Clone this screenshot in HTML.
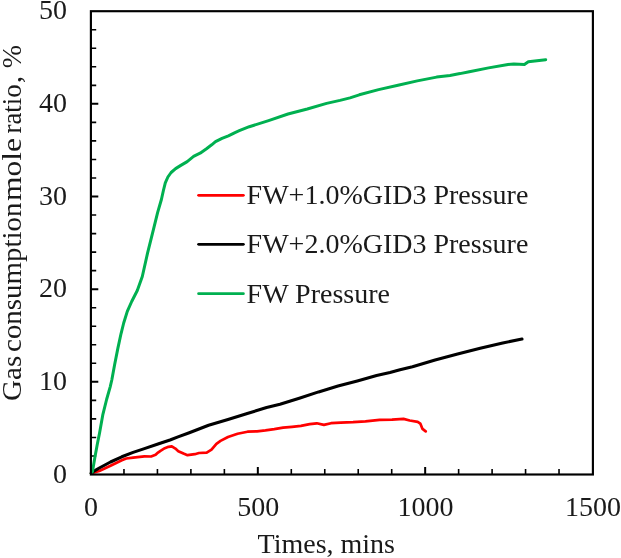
<!DOCTYPE html>
<html><head><meta charset="utf-8"><title>Gas consumption mole ratio</title>
<style>html,body{margin:0;padding:0;background:#fff;}body{width:621px;height:558px;overflow:hidden;}svg{display:block;}text{font-family:"Liberation Serif",serif;fill:#1a1a1a;}g.t{opacity:0.999;}</style></head><body>
<svg width="621" height="558" viewBox="0 0 621 558">
<rect x="0" y="0" width="621" height="558" fill="#ffffff"/>
<path d="M123.97,474.5v-5.4M157.43,474.5v-5.4M190.90,474.5v-5.4M224.37,474.5v-5.4M291.30,474.5v-5.4M324.77,474.5v-5.4M358.23,474.5v-5.4M391.70,474.5v-5.4M458.63,474.5v-5.4M492.10,474.5v-5.4M525.57,474.5v-5.4M559.03,474.5v-5.4M90.9,455.97h5.3M90.9,437.44h5.3M90.9,418.90h5.3M90.9,400.37h5.3M90.9,363.31h5.3M90.9,344.78h5.3M90.9,326.24h5.3M90.9,307.71h5.3M90.9,270.65h5.3M90.9,252.12h5.3M90.9,233.58h5.3M90.9,215.05h5.3M90.9,177.99h5.3M90.9,159.46h5.3M90.9,140.92h5.3M90.9,122.39h5.3M90.9,85.33h5.3M90.9,66.80h5.3M90.9,48.26h5.3M90.9,29.73h5.3" stroke="#000" stroke-width="1.6" fill="none"/>
<path d="M257.83,474.5v-7.6M425.17,474.5v-7.6M90.9,381.84h7.4M90.9,289.18h7.4M90.9,196.52h7.4M90.9,103.86h7.4" stroke="#000" stroke-width="2.0" fill="none"/>
<polyline points="91.2,473.4 93.1,472.6 99.3,470.9 110.5,465.8 121.8,460.3 126.2,458.5 133.1,457.6 144.4,456.3 151.1,456.5 155.6,454.8 158.0,452.6 160.5,450.8 164.8,448.2 168.5,446.8 171.8,446.3 175.4,448.6 178.3,451.2 183.5,453.6 187.5,455.2 194.8,454.2 199.0,453.0 206.7,452.6 211.5,449.6 216.4,443.8 220.5,440.9 228.0,437.0 237.6,433.8 247.5,431.7 257.0,431.3 265.4,430.4 274.3,429.2 283.1,427.6 292.0,426.8 300.9,425.9 309.7,424.2 316.8,423.3 323.9,424.9 331.0,423.2 340.6,422.6 353.0,422.1 365.4,421.3 379.6,419.8 392.0,419.7 403.5,418.9 409.7,420.5 417.7,421.8 420.3,423.6 422.5,428.9 425.7,431.4" fill="none" stroke="#ff0000" stroke-width="2.7" stroke-linejoin="round" stroke-linecap="round"/>
<polyline points="91.2,473.2 93.1,471.6 99.3,468.0 110.5,462.0 121.8,456.8 133.1,452.4 144.4,448.6 158.0,444.0 170.0,440.0 178.0,436.9 189.3,432.7 208.6,425.3 228.0,419.4 247.3,413.4 266.6,407.6 280.0,404.3 299.3,398.3 318.6,391.9 338.0,386.1 357.3,380.9 376.6,375.5 390.0,372.6 400.0,369.8 412.5,366.7 435.1,359.9 457.6,353.9 480.2,348.2 502.7,343.0 522.0,339.0" fill="none" stroke="#000000" stroke-width="3.1" stroke-linejoin="round" stroke-linecap="round"/>
<polyline points="91.3,473.5 92.5,471.5 94.9,457.3 97.3,444.3 99.6,432.8 102.9,414.3 106.6,399.5 110.2,386.8 111.8,380.0 114.7,364.2 117.9,348.1 121.0,333.8 123.7,323.0 127.3,311.4 131.7,301.5 137.3,290.5 142.3,276.5 147.6,252.9 152.6,232.8 157.6,212.7 161.4,199.5 163.4,190.5 165.3,182.8 167.9,177.0 171.1,172.5 175.6,168.6 180.8,165.4 187.2,161.6 193.6,156.4 200.1,153.2 206.5,148.7 211.7,144.8 215.5,141.6 222.0,138.4 228.4,135.8 235.0,132.6 239.3,130.7 249.3,126.7 268.6,120.6 288.0,114.0 307.3,109.0 326.6,103.4 340.0,100.4 350.0,97.9 359.3,94.8 378.6,89.6 398.0,85.2 417.3,80.9 436.6,77.1 450.0,75.4 460.0,73.6 469.3,71.7 488.6,67.9 508.0,64.4 513.8,64.0 524.4,64.4 528.3,61.7 537.0,60.7 545.7,59.7" fill="none" stroke="#00b050" stroke-width="3.0" stroke-linejoin="round" stroke-linecap="round"/>
<rect x="90.9" y="11.2" width="502.0" height="463.3" fill="none" stroke="#000" stroke-width="2.15"/>
<g class="t">
<text x="67" y="482.5" font-size="28.0" text-anchor="end">0</text>
<text x="67" y="389.8" font-size="28.0" text-anchor="end">10</text>
<text x="67" y="297.2" font-size="28.0" text-anchor="end">20</text>
<text x="67" y="204.5" font-size="28.0" text-anchor="end">30</text>
<text x="67" y="111.9" font-size="28.0" text-anchor="end">40</text>
<text x="67" y="19.2" font-size="28.0" text-anchor="end">50</text>
<text x="90.9" y="515.6" font-size="28.0" text-anchor="middle">0</text>
<text x="258.2" y="515.6" font-size="28.0" text-anchor="middle">500</text>
<text x="425.6" y="515.6" font-size="28.0" text-anchor="middle">1000</text>
<text x="592.9" y="515.6" font-size="28.0" text-anchor="middle">1500</text>
<text x="326.3" y="552.6" font-size="28.0" text-anchor="middle">Times, mins</text>
<text transform="translate(20.5,378.4) rotate(-90) scale(1.04,1)" font-size="28.0" text-anchor="middle">Gas</text>
<text transform="translate(20.5,277.2) rotate(-90) scale(1.034,1)" font-size="28.0" text-anchor="middle">consumption</text>
<text transform="translate(20.5,169.4) rotate(-90) scale(1.125,1)" font-size="28.0" text-anchor="middle">mole</text>
<text transform="translate(20.5,108.9) rotate(-90) scale(0.96,1)" font-size="28.0" text-anchor="middle">ratio</text>
<text transform="translate(20.5,79.4) rotate(-90) scale(1.0,1)" font-size="28.0" text-anchor="middle">,</text>
<text transform="translate(20.5,56.6) rotate(-90) scale(1.0,1)" font-size="28.0" text-anchor="middle">%</text>
<line x1="198.6" x2="243.4" y1="195.3" y2="195.3" stroke="#ff0000" stroke-width="2.8" stroke-linecap="round"/>
<text x="246.6" y="204.2" font-size="28.0">FW+1.0%GID3 Pressure</text>
<line x1="198.6" x2="243.4" y1="244.3" y2="244.3" stroke="#000000" stroke-width="2.8" stroke-linecap="round"/>
<text x="246.6" y="252.9" font-size="28.0">FW+2.0%GID3 Pressure</text>
<line x1="198.6" x2="243.4" y1="293.7" y2="293.7" stroke="#00b050" stroke-width="2.8" stroke-linecap="round"/>
<text x="246.6" y="302.6" font-size="28.0">FW Pressure</text>
</g>
</svg></body></html>
